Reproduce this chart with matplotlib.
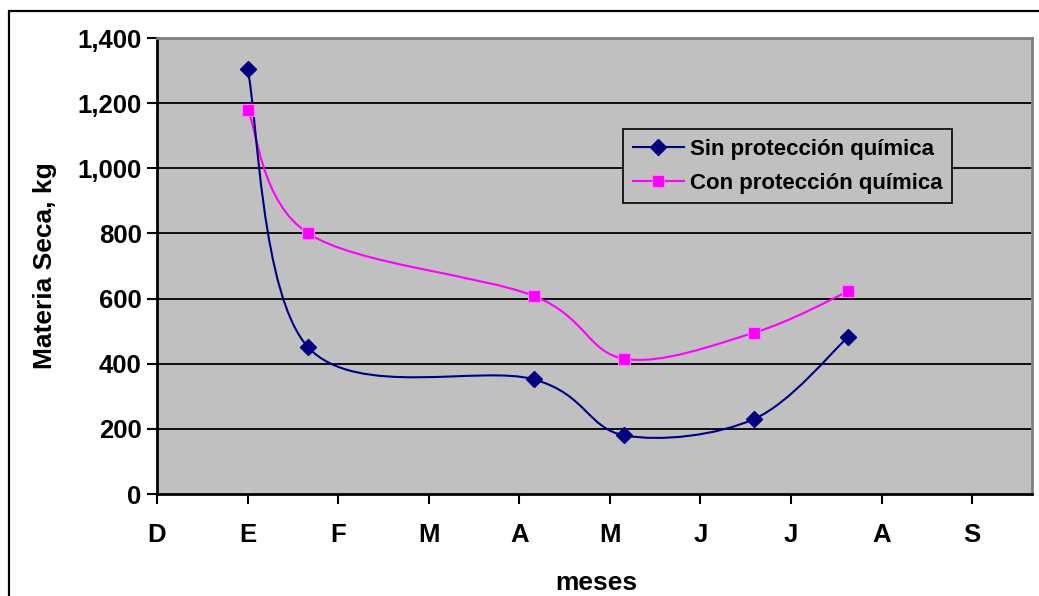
import numpy as np
import matplotlib
matplotlib.use("Agg")
import matplotlib.pyplot as plt
from matplotlib.path import Path
from matplotlib.patches import PathPatch, Rectangle
from matplotlib.lines import Line2D
from matplotlib.ticker import FuncFormatter

plt.rcParams['font.family'] = ['Liberation Sans', 'DejaVu Sans']
plt.rcParams['font.weight'] = 'bold'

# month axis: 0 = D, 1 = E, ...
meses = ['D', 'E', 'F', 'M', 'A', 'M', 'J', 'J', 'A', 'S']
x_fechas = [1.0, 1.67, 4.16, 5.16, 6.59, 7.63]
sin_prot = [1305, 450, 352, 180, 230, 482]
con_prot = [1180, 800, 608, 415, 495, 622]

NAVY = '#000080'
MAGENTA = '#FF00FF'
GRIS = '#C0C0C0'


def smooth_path(x, y):
    # excel-like smoothed line: cubic bezier, catmull-rom control points
    p = np.column_stack([x, y]).astype(float)
    n = len(p)
    verts = [p[0]]
    codes = [Path.MOVETO]
    for i in range(n - 1):
        p0 = p[max(i - 1, 0)]
        p1 = p[i]
        p2 = p[i + 1]
        p3 = p[min(i + 2, n - 1)]
        c1 = p1 + (p2 - p0) / 6.0
        c2 = p2 - (p3 - p1) / 6.0
        verts += [c1, c2, p2]
        codes += [Path.CURVE4] * 3
    return Path(verts, codes)


fig = plt.figure(figsize=(10.39, 5.96), dpi=100)
ax = fig.add_axes([157/1039, 102/596, 875/1039, 456/596])
ax.set_facecolor(GRIS)

# outer chart frame
fig.patches.append(Rectangle((9/1039, -0.1), 1.2, (596-11)/596 + 0.1,
                             transform=fig.transFigure, fill=False,
                             edgecolor='black', linewidth=1.6, clip_on=False))

for yv in range(200, 1400, 200):
    ax.axhline(yv, color='black', linewidth=1.3, zorder=1)

ax.add_patch(PathPatch(smooth_path(x_fechas, con_prot), fill=False,
                       edgecolor=MAGENTA, linewidth=1.5, zorder=3))
ax.add_patch(PathPatch(smooth_path(x_fechas, sin_prot), fill=False,
                       edgecolor=NAVY, linewidth=1.5, zorder=3))
ax.plot(x_fechas, con_prot, linestyle='none', marker='s', markersize=8.8,
        markerfacecolor=MAGENTA, markeredgecolor='#FF80FF', markeredgewidth=0.8, zorder=4)
ax.plot(x_fechas, sin_prot, linestyle='none', marker='D', markersize=8,
        markerfacecolor=NAVY, markeredgecolor=NAVY, zorder=5)

ax.set_xlim(0, 9.66)
ax.set_ylim(0, 1400)
ax.set_xticks(range(len(meses)))
ax.set_xticklabels(meses)
ax.set_yticks(range(0, 1600, 200))
ax.yaxis.set_major_formatter(FuncFormatter(lambda v, p: '{:,.0f}'.format(v)))
ax.tick_params(axis='y', direction='out', length=7, width=1.5, labelsize=18.5, pad=4)
ax.tick_params(axis='x', direction='out', length=7, width=1.5, labelsize=18.5, pad=14)

for s in ['left', 'bottom']:
    ax.spines[s].set_color('black')
    ax.spines[s].set_linewidth(2)
for s in ['top', 'right']:
    ax.spines[s].set_color('#808080')
    ax.spines[s].set_linewidth(2)

ax.text(-0.128, 0.5, 'Materia Seca, kg', transform=ax.transAxes, rotation=90,
        ha='center', va='center', fontsize=19, fontweight='bold')
fig.text(596/1039, 6/596, 'meses', ha='center', va='baseline',
         fontsize=19, fontweight='bold')

handles = [Line2D([], [], color=NAVY, linewidth=1.5, marker='D', markersize=8,
                  markerfacecolor=NAVY, markeredgecolor=NAVY),
           Line2D([], [], color=MAGENTA, linewidth=1.5, marker='s', markersize=8.8,
                  markerfacecolor=MAGENTA, markeredgecolor='#FF80FF', markeredgewidth=0.8)]
leg = ax.legend(handles, ['Sin protección química', 'Con protección química'],
                loc='upper left', bbox_to_anchor=(0.533, 0.800), borderaxespad=0,
                fontsize=16, handlelength=2.3, handletextpad=0.3, labelspacing=0.6,
                borderpad=0.42, fancybox=False, framealpha=1, facecolor=GRIS,
                edgecolor='black')
leg.get_frame().set_linewidth(1.2)

fig.savefig('out.png', dpi=100)
